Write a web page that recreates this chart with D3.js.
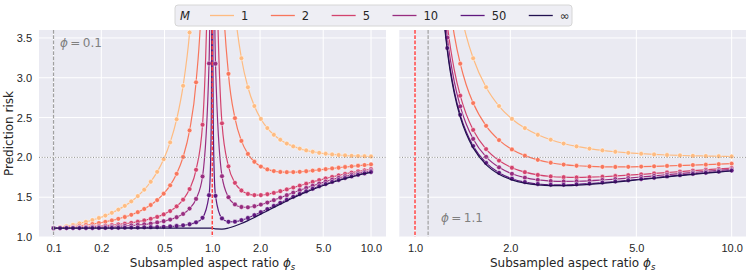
<!DOCTYPE html>
<html>
<head>
<meta charset="utf-8">
<script src="https://cdnjs.cloudflare.com/ajax/libs/d3/7.8.5/d3.min.js"></script>
<style>
  body { margin: 0; background: #fff; }
  svg { font-family: "DejaVu Sans", sans-serif; }
  .tick text { fill: #262626; font-size: 11px; }
</style>
</head>
<body>
<div id="chart"></div>
<script>
// ensemble sizes shown in the legend
const ensembleSizes = ["1", "2", "5", "10", "50", "\u221e"];

// left panel: phi = 0.1
const leftPhiS = [0.1, 0.1099, 0.1207, 0.1326, 0.1456, 0.16, 0.1758, 0.1931, 0.2121, 0.233, 0.256, 0.2812, 0.3089, 0.3393, 0.3728, 0.4095, 0.4498, 0.4942, 0.5429, 0.5964, 0.6551, 0.7197, 0.7906, 0.8685, 0.9541,
  0.97, 0.985, 0.99, 0.995, 1.005, 1.01, 1.015, 1.03,
  1.0481, 1.1514, 1.2649, 1.3895, 1.5264, 1.6768, 1.8421, 2.0236, 2.223, 2.4421, 2.6827, 2.9471, 3.2375, 3.5565, 3.9069, 4.2919, 4.7149, 5.1795, 5.6899, 6.2506, 6.8665, 7.5431, 8.2864, 9.103, 10];
const leftM1 = [1.111, 1.124, 1.137, 1.153, 1.170, 1.190, 1.213, 1.239, 1.269, 1.304, 1.344, 1.391, 1.447, 1.514, 1.594, 1.694, 1.818, 1.977, 2.188, 2.478, 2.899, 3.568, 4.776, 7.605, 21.79,
  33.33, 66.67, 100, 200, 201, 101, 67.68, 34.36,
  21.84, 7.737, 4.984, 3.848, 3.245, 2.881, 2.645, 2.483, 2.368, 2.284, 2.222, 2.174, 2.138, 2.110, 2.088, 2.071, 2.057, 2.046, 2.037, 2.030, 2.025, 2.020, 2.017, 2.014, 2.011];
const leftM2 = [1.111, 1.117, 1.124, 1.132, 1.141, 1.151, 1.162, 1.175, 1.190, 1.208, 1.228, 1.251, 1.279, 1.312, 1.353, 1.402, 1.464, 1.544, 1.649, 1.794, 2.005, 2.339, 2.943, 4.358, 11.45,
  17.22, 33.89, 50.56, 100.6, 101.1, 51.06, 34.39, 17.73,
  11.47, 4.418, 3.049, 2.493, 2.207, 2.044, 1.945, 1.885, 1.849, 1.828, 1.817, 1.814, 1.815, 1.819, 1.826, 1.834, 1.843, 1.852, 1.861, 1.870, 1.879, 1.888, 1.896, 1.904, 1.912];
const leftM5 = [1.111, 1.114, 1.116, 1.119, 1.123, 1.127, 1.132, 1.137, 1.143, 1.150, 1.158, 1.167, 1.178, 1.192, 1.208, 1.228, 1.252, 1.284, 1.326, 1.384, 1.469, 1.602, 1.844, 2.410, 5.246,
  7.556, 14.22, 20.89, 40.89, 41.09, 21.09, 14.42, 7.756,
  5.249, 2.428, 1.888, 1.680, 1.584, 1.541, 1.526, 1.526, 1.537, 1.554, 1.575, 1.597, 1.621, 1.645, 1.669, 1.692, 1.714, 1.735, 1.755, 1.774, 1.792, 1.809, 1.824, 1.838, 1.852];
const leftM10 = [1.111, 1.112, 1.114, 1.115, 1.117, 1.119, 1.121, 1.124, 1.127, 1.130, 1.134, 1.139, 1.145, 1.151, 1.159, 1.169, 1.182, 1.198, 1.219, 1.248, 1.290, 1.357, 1.478, 1.760, 3.179,
  4.333, 7.667, 11.0, 21.0, 21.1, 11.1, 7.765, 4.431,
  3.176, 1.764, 1.500, 1.409, 1.377, 1.373, 1.386, 1.407, 1.433, 1.463, 1.494, 1.525, 1.557, 1.587, 1.616, 1.644, 1.671, 1.696, 1.720, 1.742, 1.763, 1.782, 1.800, 1.816, 1.832];
const leftM50 = [1.111, 1.111, 1.112, 1.112, 1.112, 1.113, 1.113, 1.114, 1.114, 1.115, 1.116, 1.117, 1.118, 1.119, 1.121, 1.123, 1.125, 1.128, 1.133, 1.138, 1.147, 1.160, 1.184, 1.241, 1.525,
  1.756, 2.422, 3.089, 5.089, 5.108, 3.107, 2.439, 1.770,
  1.517, 1.233, 1.191, 1.192, 1.211, 1.239, 1.274, 1.311, 1.350, 1.390, 1.429, 1.468, 1.505, 1.540, 1.574, 1.606, 1.637, 1.665, 1.692, 1.716, 1.740, 1.761, 1.781, 1.799, 1.816];
const leftInf = [1.111, 1.111, 1.111, 1.111, 1.111, 1.111, 1.111, 1.111, 1.111, 1.111, 1.111, 1.111, 1.111, 1.111, 1.111, 1.111, 1.111, 1.111, 1.111, 1.111, 1.111, 1.111, 1.111, 1.111, 1.111,
  1.111, 1.111, 1.111, 1.111, 1.110, 1.109, 1.108, 1.105,
  1.102, 1.100, 1.113, 1.138, 1.169, 1.206, 1.246, 1.287, 1.330, 1.372, 1.413, 1.453, 1.492, 1.529, 1.564, 1.597, 1.628, 1.657, 1.685, 1.710, 1.734, 1.756, 1.776, 1.795, 1.812];

// right panel: phi = 1.1
const rightPhiS = [1.1, 1.1514, 1.2, 1.2649, 1.33, 1.3895, 1.45, 1.5264, 1.6768, 1.8421, 2.0236, 2.223, 2.4421, 2.6827, 2.9471, 3.2375, 3.5565, 3.9069, 4.2919, 4.7149, 5.1795, 5.6899, 6.2506, 6.8665, 7.5431, 8.2864, 9.103, 10];
const rightM1 = [11.09, 7.737, 6.167, 4.984, 4.278, 3.848, 3.533, 3.245, 2.881, 2.645, 2.483, 2.368, 2.284, 2.222, 2.174, 2.138, 2.110, 2.088, 2.071, 2.057, 2.046, 2.037, 2.030, 2.025, 2.020, 2.017, 2.014, 2.011];
const rightM2 = [11.09, 6.856, 5.260, 4.163, 3.543, 3.177, 2.916, 2.682, 2.396, 2.217, 2.100, 2.022, 1.969, 1.933, 1.910, 1.895, 1.886, 1.881, 1.880, 1.881, 1.884, 1.888, 1.893, 1.898, 1.904, 1.909, 1.915, 1.921];
const rightM5 = [11.09, 6.327, 4.716, 3.669, 3.102, 2.775, 2.546, 2.345, 2.104, 1.960, 1.870, 1.814, 1.780, 1.760, 1.751, 1.748, 1.751, 1.757, 1.766, 1.776, 1.787, 1.798, 1.810, 1.822, 1.834, 1.845, 1.856, 1.866];
const rightM10 = [11.09, 6.151, 4.534, 3.505, 2.954, 2.641, 2.423, 2.232, 2.007, 1.875, 1.794, 1.745, 1.717, 1.703, 1.698, 1.700, 1.706, 1.716, 1.727, 1.740, 1.754, 1.768, 1.783, 1.797, 1.810, 1.824, 1.836, 1.848];
const rightM50 = [11.09, 6.010, 4.389, 3.373, 2.837, 2.534, 2.324, 2.142, 1.930, 1.806, 1.732, 1.690, 1.666, 1.656, 1.655, 1.661, 1.670, 1.683, 1.697, 1.712, 1.728, 1.744, 1.761, 1.776, 1.792, 1.806, 1.820, 1.834];
const rightInf = [11.09, 5.975, 4.353, 3.341, 2.807, 2.507, 2.299, 2.120, 1.910, 1.789, 1.717, 1.676, 1.654, 1.645, 1.645, 1.651, 1.661, 1.674, 1.689, 1.705, 1.722, 1.738, 1.755, 1.771, 1.787, 1.802, 1.816, 1.830];

// theory-only points (no simulated marker drawn there)
const lineOnlyPhiS = [0.97, 0.985, 0.99, 0.995, 1.005, 1.01, 1.015, 1.03, 1.2, 1.33, 1.45];

const leftTicks = [0.1, 0.2, 0.5, 1, 2, 5, 10];
const rightTicks = [1, 2, 5, 10];
const yTicks = [1.0, 1.5, 2.0, 2.5, 3.0, 3.5];

const width = 747, height = 270;
const plotTop = 30, plotBottom = 237;

const svg = d3.select("#chart").append("svg")
  .attr("width", width)
  .attr("height", height);

const y = d3.scaleLinear().domain([1.0, 3.6]).range([plotBottom, plotTop]);
const color = d3.scaleOrdinal()
  .domain(ensembleSizes)
  .range(ensembleSizes.map((d, i) => d3.interpolateMagma((6 - i) / 7)));

function drawPanel(id, x, ticks, phiS, series, refs, note) {
  const [x0, x1] = x.range();
  const g = svg.append("g");

  g.append("rect")
    .attr("x", x0).attr("y", plotTop)
    .attr("width", x1 - x0).attr("height", plotBottom - plotTop)
    .attr("fill", "#eaeaf2");

  // grid
  g.selectAll(".gx").data(ticks).enter().append("line")
    .attr("x1", d => x(d)).attr("x2", d => x(d))
    .attr("y1", plotTop).attr("y2", plotBottom)
    .attr("stroke", "#fff").attr("stroke-width", 1);
  g.selectAll(".gy").data(yTicks).enter().append("line")
    .attr("x1", x0).attr("x2", x1)
    .attr("y1", d => y(d)).attr("y2", d => y(d))
    .attr("stroke", "#fff").attr("stroke-width", 1);

  svg.append("clipPath").attr("id", id)
    .append("rect")
    .attr("x", x0).attr("y", plotTop)
    .attr("width", x1 - x0).attr("height", plotBottom - plotTop);

  const plot = g.append("g").attr("clip-path", `url(#${id})`);

  const line = d3.line()
    .x(d => x(d[0]))
    .y(d => y(d[1]))
    .curve(d3.curveMonotoneX);

  series.forEach((vals, i) => {
    const name = ensembleSizes[i];
    const pts = phiS.map((p, j) => [p, vals[j]]);
    plot.append("path")
      .datum(pts)
      .attr("d", line)
      .attr("fill", "none")
      .attr("stroke", color(name))
      .attr("stroke-width", 1.2);
    if (name !== "\u221e") {
      plot.selectAll(null)
        .data(pts.filter(d => !lineOnlyPhiS.includes(d[0]) && d[1] < 3.7))
        .enter().append("circle")
        .attr("cx", d => x(d[0]))
        .attr("cy", d => y(d[1]))
        .attr("r", 2.4)
        .attr("fill", color(name))
        .attr("stroke", "#fff")
        .attr("stroke-width", 0.5);
    }
  });

  // reference lines
  plot.append("line")
    .attr("x1", x0).attr("x2", x1)
    .attr("y1", y(2.0)).attr("y2", y(2.0))
    .attr("stroke", "#8c8c8c").attr("stroke-width", 1)
    .attr("stroke-dasharray", "1,1.7");
  refs.forEach(r => {
    plot.append("line")
      .attr("x1", x(r.v)).attr("x2", x(r.v))
      .attr("y1", plotTop).attr("y2", plotBottom)
      .attr("stroke", r.c).attr("stroke-width", r.w)
      .attr("stroke-dasharray", "3.7,1.6");
  });

  // phi annotation
  const t = g.append("text")
    .attr("x", note.x).attr("y", note.y)
    .attr("fill", "#808080")
    .style("font-size", "12px");
  t.append("tspan").attr("font-style", "italic").text("\u03d5");
  t.append("tspan").text("\u2009=\u2009" + note.v);

  // x axis
  const ax = g.append("g")
    .attr("transform", `translate(0,${plotBottom})`)
    .call(d3.axisBottom(x).tickValues(ticks).tickFormat(d3.format(".1f")).tickSize(0).tickPadding(7.5));
  ax.select(".domain").remove();
  ax.selectAll("text").attr("font-family", null);

  const lab = g.append("text")
    .attr("x", (x0 + x1) / 2).attr("y", 267)
    .attr("text-anchor", "middle")
    .attr("fill", "#262626")
    .style("font-size", "12px");
  lab.append("tspan").text("Subsampled aspect ratio ");
  lab.append("tspan").attr("font-style", "italic").text("\u03d5");
  lab.append("tspan").attr("font-style", "italic").attr("dy", 2.5)
    .style("font-size", "8.5px").text("s");
}

const leftX = d3.scaleLog().domain([0.081, 12.43]).range([39, 386]);
const rightX = d3.scaleLog().domain([0.892, 11.10]).range([399.3, 746]);

drawPanel("clipL", leftX, leftTicks, leftPhiS,
  [leftM1, leftM2, leftM5, leftM10, leftM50, leftInf],
  [{ v: 0.1, c: "#a0a0a0", w: 1.2 }, { v: 1.0, c: "#f44", w: 1.5 }],
  { x: 60, y: 47, v: "0.1" });

drawPanel("clipR", rightX, rightTicks, rightPhiS,
  [rightM1, rightM2, rightM5, rightM10, rightM50, rightInf],
  [{ v: 1.0, c: "#f44", w: 1.5 }, { v: 1.1, c: "#a0a0a0", w: 1.2 }],
  { x: 441, y: 222, v: "1.1" });

// shared y axis on the left panel
const ay = svg.append("g")
  .attr("transform", "translate(39,0)")
  .call(d3.axisLeft(y).tickValues(yTicks).tickFormat(d3.format(".1f")).tickSize(0).tickPadding(7));
ay.select(".domain").remove();
ay.selectAll("text").attr("font-family", null);

svg.append("text")
  .attr("transform", `translate(13,${(plotTop + plotBottom) / 2}) rotate(-90)`)
  .attr("text-anchor", "middle")
  .attr("fill", "#262626")
  .style("font-size", "12px")
  .text("Prediction risk");

// legend
const legend = svg.append("g");
legend.append("rect")
  .attr("x", 175).attr("y", 5)
  .attr("width", 397).attr("height", 21)
  .attr("rx", 3)
  .attr("fill", "#eeeef4")
  .attr("stroke", "#d6d6d6")
  .attr("stroke-width", 1);
legend.append("text")
  .attr("x", 180).attr("y", 19.5)
  .attr("font-style", "italic")
  .attr("fill", "#262626")
  .style("font-size", "11.5px")
  .text("M");

let lx = 210;
ensembleSizes.forEach(name => {
  legend.append("line")
    .attr("x1", lx).attr("x2", lx + 24)
    .attr("y1", 15.5).attr("y2", 15.5)
    .attr("stroke", color(name))
    .attr("stroke-width", 1.3);
  const t = legend.append("text")
    .attr("x", lx + 31).attr("y", 19.5)
    .attr("fill", "#262626")
    .style("font-size", "11.5px")
    .text(name);
  lx += 53.5 + t.node().getComputedTextLength();
});
</script>
</body>
</html>
